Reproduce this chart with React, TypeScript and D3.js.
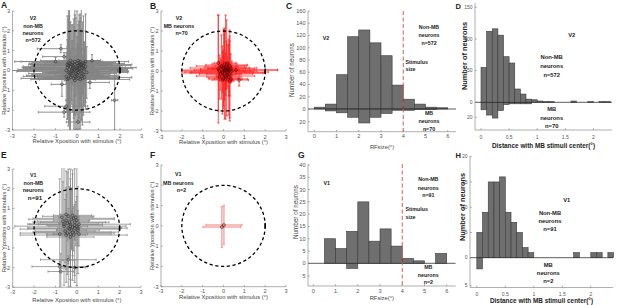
import React from "react";
import * as d3 from "d3";

const FONT = '"Liberation Sans", Arial, Helvetica, sans-serif';

// ---- Scatter data: [x centre, y centre, x error, y error] (deg) ----
type Neuron = [number, number, number, number];

const v2NonMB: Neuron[] = [
  [-0.12, 0.05, 1.8, 0.6], [0.05, -0.1, 0.6, 2.4], [-0.3, 0.2, 2.2, 0.5], [0.2, 0.3, 0.5, 2.8],
  [-0.05, -0.35, 1.5, 0.9], [0.1, 0.1, 2.5, 0.4], [-0.4, -0.1, 1.2, 1.9], [0.3, -0.2, 0.8, 1.6],
  [-0.2, 0.4, 1.9, 1.1], [0.0, 0.0, 0.9, 3.0], [-0.25, -0.25, 2.1, 0.7], [0.15, 0.45, 0.7, 2.2],
  [-0.45, 0.15, 1.6, 2.6], [0.35, 0.05, 2.0, 0.5], [-0.1, -0.5, 0.5, 2.5], [0.05, 0.25, 1.3, 1.4],
  [-0.35, 0.35, 0.6, 2.9], [0.25, -0.4, 1.7, 0.8], [-0.15, 0.15, 2.4, 0.3], [0.4, 0.2, 0.4, 1.8],
  [-0.5, -0.3, 2.0, 1.2], [0.1, -0.25, 1.1, 2.7], [-0.2, -0.05, 2.6, 0.6], [0.2, 0.0, 0.8, 2.1],
  [-0.3, 0.5, 1.4, 0.5], [0.0, 0.35, 2.2, 1.0], [-0.4, 0.25, 0.7, 2.3], [0.3, 0.4, 1.5, 0.7],
  [-0.05, -0.15, 1.0, 2.8], [0.15, -0.45, 2.3, 0.4], [-0.25, 0.0, 0.5, 1.5], [0.45, -0.1, 1.9, 1.3],
  [-0.1, 0.3, 1.7, 2.5], [0.05, 0.5, 0.9, 0.8], [-0.45, -0.45, 1.3, 2.0], [0.25, 0.15, 2.5, 0.6],
  [-0.15, -0.4, 0.6, 3.0], [0.35, 0.35, 1.2, 1.1], [-0.3, -0.2, 1.8, 0.4], [0.1, 0.2, 0.4, 2.6],
  [-0.05, 0.1, 2.1, 0.9], [0.2, -0.3, 1.0, 2.2], [-0.35, 0.05, 2.4, 1.6], [0.0, -0.2, 0.7, 1.9],
  [-0.2, 0.25, 1.5, 0.3], [0.4, 0.45, 0.8, 2.4], [-0.5, 0.0, 2.6, 0.7], [0.15, -0.05, 1.4, 2.9],
  [-0.1, -0.3, 2.0, 1.0], [0.3, 0.1, 0.5, 1.2], [-0.4, 0.4, 1.1, 2.7], [0.05, -0.4, 1.9, 0.5],
  [-0.25, 0.3, 0.9, 2.0], [0.2, 0.25, 2.3, 0.8], [-0.15, -0.1, 1.2, 2.3], [0.0, 0.15, 1.6, 0.6],
  [-0.3, -0.35, 0.4, 2.8], [0.35, -0.35, 2.2, 1.4], [-0.45, 0.3, 1.7, 0.9], [0.1, 0.4, 0.6, 2.1],
  [-0.2, 0.1, 2.3, 2.2], [0.25, -0.15, 1.6, 2.6], [-0.35, -0.15, 1.9, 2.9], [0.05, 0.05, 2.0, 2.0],
  [-0.1, 0.45, 2.5, 2.7], [0.3, 0.25, 1.8, 2.5], [-0.4, -0.4, 2.2, 2.4], [0.15, 0.3, 2.4, 1.7],
  [-0.75, 1.1, 1.1, 0.2], [-0.6, 0.7, 1.0, 0.2], [-0.5, -1.8, 1.0, 0.3], [-0.6, -2.1, 1.2, 0.25],
  [0.05, -2.6, 0.55, 0.4], [1.75, -1.5, 0.15, 1.5], [1.95, 0.0, 0.4, 0.3], [0.6, -0.6, 0.9, 0.3],
  [-0.7, -0.7, 0.5, 0.6], [-1.0, 0.45, 1.9, 0.2], [0.7, 0.5, 0.4, 0.3],
];

const v2MB: Neuron[] = [
  [0.1, 0.0, 1.2, 0.9], [0.0, 0.1, 0.5, 2.0], [0.2, -0.1, 1.8, 0.4], [-0.1, 0.2, 0.8, 1.6],
  [0.3, 0.05, 2.3, 0.3], [0.05, -0.2, 0.4, 2.2], [-0.2, 0.0, 1.8, 0.5], [0.15, 0.3, 1.0, 1.2],
  [0.25, -0.3, 0.6, 1.9], [-0.05, -0.05, 1.5, 1.0], [0.35, 0.15, 0.9, 0.7], [0.1, 0.2, 0.3, 2.6],
  [-0.25, 0.1, 0.5, 2.7], [0.2, 0.1, 1.3, 0.6], [0.0, -0.35, 0.7, 1.4], [0.3, -0.15, 1.1, 2.2],
  [-0.15, -0.15, 1.0, 0.8], [0.05, 0.35, 0.6, 1.8], [0.4, 0.0, 0.6, 0.5], [0.15, -0.05, 2.0, 0.5],
  [-0.1, 0.25, 1.2, 0.3], [0.2, 0.4, 0.4, 0.9], [0.1, -0.4, 0.8, 0.8], [0.3, 0.25, 0.7, 1.5],
  [-0.2, -0.3, 0.6, 1.1], [0.0, 0.15, 1.6, 0.6], [0.25, 0.05, 0.5, 1.3], [0.1, -0.25, 1.4, 0.4],
  [0.75, -0.45, 0.45, 0.3], [0.35, -0.4, 0.8, 0.2], [0.05, 0.05, 0.3, 0.4], [0.15, 0.15, 0.9, 2.4],
  [-0.05, -0.45, 0.5, 1.7], [0.2, -0.2, 0.4, 0.6], [-0.05, -0.1, 1.95, 0.3], [0.6, 0.05, 2.0, 0.2],
  [-0.25, 0.4, 0.2, 2.4], [0.3, -0.5, 0.2, 2.0],
];

const v1NonMB: Neuron[] = [
  [-0.3, 0.2, 1.5, 2.8], [-0.1, 0.0, 2.2, 0.6], [-0.5, 0.4, 0.6, 2.5], [-0.2, -0.2, 1.8, 1.2],
  [0.0, 0.1, 0.5, 3.0], [-0.4, 0.6, 1.2, 0.4], [-0.15, -0.35, 2.5, 0.8], [-0.6, 0.1, 0.7, 3.0],
  [-0.25, 0.45, 2.0, 1.5], [0.05, -0.1, 1.0, 2.2], [-0.35, -0.05, 2.3, 0.5], [-0.45, 0.25, 0.4, 2.6],
  [-0.1, 0.3, 1.6, 0.9], [-0.3, -0.3, 0.8, 2.8], [0.1, 0.2, 2.4, 0.4], [-0.55, -0.15, 1.4, 1.6],
  [-0.2, 0.65, 0.9, 2.3], [-0.05, -0.2, 2.0, 0.7], [-0.4, 0.0, 0.5, 3.0], [-0.15, 0.5, 1.9, 0.6],
  [-0.65, 0.35, 1.2, 2.0], [0.0, 0.4, 0.6, 1.2], [-0.3, 0.1, 2.6, 0.3], [-0.5, -0.35, 0.9, 2.4],
  [-0.1, 0.15, 1.3, 2.9], [-0.25, -0.1, 0.7, 1.0], [-0.7, 0.55, 0.4, 2.6], [0.1, -0.3, 1.5, 0.6],
  [-0.35, 0.3, 1.7, 1.8], [-0.2, 0.05, 0.4, 2.7], [-0.45, -0.25, 2.2, 0.4], [-0.05, 0.55, 0.8, 0.8],
  [-0.3, -0.45, 1.1, 2.5], [0.05, 0.0, 2.3, 0.9], [-0.6, 0.2, 1.6, 0.5], [-0.4, -1.6, 1.3, 0.2],
  [-0.8, -1.95, 1.3, 0.25], [-0.75, -2.2, 0.6, 0.9], [-0.1, -2.0, 0.5, 0.4], [-0.5, 0.7, 0.3, 1.0],
  [-0.8, -0.3, 0.3, 2.8],
];

const v1MB: Neuron[] = [
  [0.02, 0.04, 0.86, 0.96],
  [-0.08, -0.06, 0.9, 1.0],
];

// ---- Histogram data ----
const rfBinEdges = [0, 0.5, 1, 1.5, 2, 2.5, 3, 3.5, 4, 4.5, 5, 5.5, 6];
const v2RfNonMB = [3, 8, 56, 118, 129, 108, 87, 39, 16, 8, 3, 2];
const v2RfMB = [0, 3, 6, 13, 22, 13, 7, 2, 2, 1, 1, 0];
const v1RfNonMB = [0, 10, 6, 13, 25, 9, 14, 7, 2, 1, 0, 4];
const v1RfMB = [0, 0, 0, 2, 0, 0, 0, 0, 0, 0, 0, 0];

const distBinEdges = [0, 0.1, 0.2, 0.3, 0.4, 0.5, 0.6, 0.7, 0.8, 0.9, 1, 1.1, 1.2, 1.3, 1.4, 1.5, 1.6, 1.7, 1.8, 1.9, 2, 2.1, 2.2, 2.3, 2.4];
const v2DistNonMB = [55, 112, 116, 106, 72, 62, 21, 13, 5, 4, 2, 1, 1, 0, 0, 0, 2, 0, 0, 1, 0, 1, 1, 0];
const v2DistMB = [10, 17, 21, 11, 3, 2, 2, 2, 2, 0, 0, 0, 0, 0, 0, 0, 0, 0, 0, 0, 0, 0, 0, 0];
const v1DistNonMB = [5, 9, 15, 15, 16, 9, 7, 5, 2, 1, 0, 0, 0, 0, 0, 0, 0, 1, 0, 0, 1, 1, 0, 1];
const v1DistMB = [2, 0, 0, 0, 0, 0, 0, 0, 0, 0, 0, 0, 0, 0, 0, 0, 0, 0, 0, 0, 0, 0, 0, 0];

// ---- Ticks ----
const posTicks = [-3, -2, -1, 0, 1, 2, 3];
const rfTicks = [0, 1, 2, 3, 4, 5, 6];
const distTicks = [0, 0.5, 1, 1.5, 2];
const v2RfUpTicks = [0, 20, 40, 60, 80, 100, 120, 140, 160];
const v2RfDownTicks = [20];
const v1RfUpTicks = [0, 5, 10, 15, 20, 25, 30, 35, 40];
const v1RfDownTicks = [5];
const v2DistUpTicks = [0, 50, 100, 150];
const v2DistDownTicks = [20];
const v1DistUpTicks = [0, 5, 10, 15, 20];
const v1DistDownTicks = [5];

const AXIS = "#7a7a7a";
const TICKTXT = "#555";
const LABTXT = "#444";

type Note = { t: string; x: number; y: number; anchor?: string; size?: number };

function Notes({ notes, size = 5.3 }: { notes: Note[]; size?: number }) {
  return (
    <g fontFamily={FONT} fontWeight="bold" fill="#222">
      {notes.map((n, i) => (
        <text key={i} x={n.x} y={n.y} fontSize={n.size ?? size} textAnchor={n.anchor ?? "middle"}>
          {n.t}
        </text>
      ))}
    </g>
  );
}

function Scatter(p: {
  id: string; data: Neuron[]; left: number; right: number; top: number; bottom: number;
  stroke: string; sw: number; so: number; marker: string; notes: Note[];
  ylabX: number; xtickY: number; xlabY: number; noteSize?: number;
}) {
  const x = d3.scaleLinear().domain([-3, 3]).range([p.left, p.right]);
  const y = d3.scaleLinear().domain([-3, 3]).range([p.bottom, p.top]);
  const cap = 1.2;
  const cy0 = (p.top + p.bottom) / 2;
  return (
    <g>
      <defs>
        <clipPath id={p.id}>
          <rect x={p.left} y={p.top - 1} width={p.right - p.left} height={p.bottom - p.top + 1} />
        </clipPath>
      </defs>
      <g clipPath={`url(#${p.id})`}>
        <g stroke={p.stroke} strokeWidth={p.sw} strokeOpacity={p.so} fill="none">
          {p.data.map((d, i) => {
            const [cx, cy, xe, ye] = d;
            const xl = x(cx - xe), xr = x(cx + xe), yy = y(cy);
            const yt = y(cy + ye), yb = y(cy - ye), xx = x(cx);
            return (
              <path
                key={i}
                d={`M${xl},${yy}H${xr}M${xl},${yy - cap}V${yy + cap}M${xr},${yy - cap}V${yy + cap}M${xx},${yt}V${yb}M${xx - cap},${yt}H${xx + cap}M${xx - cap},${yb}H${xx + cap}`}
              />
            );
          })}
        </g>
        {p.data.map((d, i) => (
          <circle key={i} cx={x(d[0])} cy={y(d[1])} r={1.4} fill="none" stroke={p.marker} strokeWidth={0.6} />
        ))}
      </g>
      <ellipse cx={x(0)} cy={y(0)} rx={x(2) - x(0)} ry={y(0) - y(2)} fill="none" stroke="#000" strokeWidth={1.3} strokeDasharray="3.2,2.6" />
      <line x1={x(2)} x2={x(2)} y1={y(0) - 2.5} y2={y(0) + 2.5} stroke="#000" strokeWidth={1.4} />
      {/* axes */}
      <line x1={p.left} x2={p.left} y1={p.top} y2={p.bottom} stroke={AXIS} strokeWidth={0.6} />
      <line x1={p.left} x2={p.right} y1={p.bottom} y2={p.bottom} stroke={AXIS} strokeWidth={0.6} />
      {posTicks.map((t) => (
        <g key={"y" + t}>
          <line x1={p.left} x2={p.left + 1.8} y1={y(t)} y2={y(t)} stroke={AXIS} strokeWidth={0.6} />
          <text x={p.left - 2.5} y={y(t)} dy="0.35em" fontSize={5.6} textAnchor="end" fontFamily={FONT} fill={TICKTXT}>{t}</text>
        </g>
      ))}
      {posTicks.map((t) => (
        <g key={"x" + t}>
          <line x1={x(t)} x2={x(t)} y1={p.bottom} y2={p.bottom - 1.8} stroke={AXIS} strokeWidth={0.6} />
          <text x={x(t)} y={p.xtickY} fontSize={5.6} textAnchor="middle" fontFamily={FONT} fill={TICKTXT}>{t}</text>
        </g>
      ))}
      <text x={(p.left + p.right) / 2} y={p.xlabY} fontSize={5.8} textAnchor="middle" fontFamily={FONT} fill={LABTXT}>
        Relative Xposition with stimulus (°)
      </text>
      <text transform={`translate(${p.ylabX},${cy0}) rotate(-90)`} fontSize={5.8} textAnchor="middle" fontFamily={FONT} fill={LABTXT}>
        Relative Yposition with stimulus (°)
      </text>
      <Notes notes={p.notes} size={p.noteSize} />
    </g>
  );
}

function Hist(p: {
  left: number; right: number; xDomain: [number, number]; zeroY: number;
  upMax: number; upMaxPx: number; downRef: number; downRefPx: number;
  axisTop: number; axisBottom: number; edges: number[]; up: number[]; down: number[];
  xTicks: number[]; upTicks: number[]; downTicks: number[]; stim?: number;
  xtickY: number; xlabel: string; xlabY: number; xlabSize: number; xlabBold?: boolean;
  ylabX: number; ylabY: number; ylabSize: number; ylabBold?: boolean; notes: Note[]; noteSize?: number;
  tickSize: number;
}) {
  const x = d3.scaleLinear().domain(p.xDomain).range([p.left, p.right]);
  const yUp = d3.scaleLinear().domain([0, p.upMax]).range([p.zeroY, p.upMaxPx]);
  const yDown = d3.scaleLinear().domain([0, p.downRef]).range([p.zeroY, p.downRefPx]);
  const fill = "#6f6f6f";
  const edge = "#3a3a3a";
  return (
    <g>
      {p.up.map((v, i) =>
        v > 0 ? (
          <rect key={"u" + i} x={x(p.edges[i])} width={x(p.edges[i + 1]) - x(p.edges[i])} y={yUp(v)} height={p.zeroY - yUp(v)} fill={fill} stroke={edge} strokeWidth={0.6} />
        ) : null
      )}
      {p.down.map((v, i) =>
        v > 0 ? (
          <rect key={"d" + i} x={x(p.edges[i])} width={x(p.edges[i + 1]) - x(p.edges[i])} y={p.zeroY} height={yDown(v) - p.zeroY} fill={fill} stroke={edge} strokeWidth={0.6} />
        ) : null
      )}
      <line x1={p.left} x2={p.right} y1={p.zeroY} y2={p.zeroY} stroke="#333" strokeWidth={0.8} />
      {p.stim !== undefined && (
        <line x1={x(p.stim)} x2={x(p.stim)} y1={p.axisTop} y2={p.axisBottom} stroke="#e0585c" strokeWidth={1} strokeDasharray="4,2.5" />
      )}
      <line x1={p.left} x2={p.left} y1={p.axisTop} y2={p.axisBottom} stroke={AXIS} strokeWidth={0.6} />
      <line x1={p.left} x2={p.right} y1={p.axisBottom} y2={p.axisBottom} stroke={AXIS} strokeWidth={0.6} />
      {p.upTicks.map((t) => (
        <g key={"yu" + t}>
          <line x1={p.left} x2={p.left + 1.8} y1={yUp(t)} y2={yUp(t)} stroke={AXIS} strokeWidth={0.6} />
          <text x={p.left - 2.5} y={yUp(t)} dy="0.35em" fontSize={p.tickSize} textAnchor="end" fontFamily={FONT} fill={TICKTXT}>{t}</text>
        </g>
      ))}
      {p.downTicks.map((t) => (
        <g key={"yd" + t}>
          <line x1={p.left} x2={p.left + 1.8} y1={yDown(t)} y2={yDown(t)} stroke={AXIS} strokeWidth={0.6} />
          <text x={p.left - 2.5} y={yDown(t)} dy="0.35em" fontSize={p.tickSize} textAnchor="end" fontFamily={FONT} fill={TICKTXT}>{t}</text>
        </g>
      ))}
      {p.xTicks.map((t) => (
        <g key={"x" + t}>
          <line x1={x(t)} x2={x(t)} y1={p.axisBottom} y2={p.axisBottom - 1.8} stroke={AXIS} strokeWidth={0.6} />
          <text x={x(t)} y={p.xtickY} fontSize={p.tickSize} textAnchor="middle" fontFamily={FONT} fill={TICKTXT}>{t}</text>
        </g>
      ))}
      <text x={(p.left + p.right) / 2} y={p.xlabY} fontSize={p.xlabSize} fontWeight={p.xlabBold ? "bold" : "normal"} textAnchor="middle" fontFamily={FONT} fill={p.xlabBold ? "#222" : LABTXT}>
        {p.xlabel}
      </text>
      <text transform={`translate(${p.ylabX},${p.ylabY}) rotate(-90)`} fontSize={p.ylabSize} fontWeight={p.ylabBold ? "bold" : "normal"} textAnchor="middle" fontFamily={FONT} fill={p.ylabBold ? "#222" : LABTXT}>
        Number of neurons
      </text>
      <Notes notes={p.notes} size={p.noteSize} />
    </g>
  );
}

function Letter({ t, x, y, size = 8.5 }: { t: string; x: number; y: number; size?: number }) {
  return (
    <text x={x} y={y} fontSize={size} fontWeight="bold" fontFamily={FONT} fill="#222">{t}</text>
  );
}

export default function App() {
  return (
    <svg width={617} height={305} style={{ position: "absolute", left: 0, top: 0, background: "#fff" }}>
      <rect width={617} height={305} fill="#fff" />
      {/* A */}
      <Scatter id="clipA" data={v2NonMB} left={12.5} right={141.5} top={11} bottom={130}
        stroke="#858585" sw={0.9} so={1} marker="#333"
        ylabX={5.5} xtickY={138} xlabY={143}
        notes={[{ t: "V2", x: 33, y: 20 }, { t: "non-MB", x: 33, y: 27.5 }, { t: "neurons", x: 33, y: 34.5 }, { t: "n=572", x: 33, y: 42 }]} />
      {/* B */}
      <Scatter id="clipB" data={v2MB} left={161} right={286} top={11} bottom={131}
        stroke="#ff1a1a" sw={0.8} so={0.9} marker="#400"
        ylabX={154} xtickY={139} xlabY={143.5}
        notes={[{ t: "V2", x: 179, y: 20 }, { t: "MB neurons", x: 179, y: 27.8 }, { t: "n=70", x: 181.5, y: 35.2 }]} />
      {/* E */}
      <Scatter id="clipE" data={v1NonMB} left={12.7} right={141} top={169} bottom={287.3}
        stroke="#8a8a8a" sw={0.8} so={1} marker="#333"
        ylabX={5.5} xtickY={293.6} xlabY={302}
        notes={[{ t: "V1", x: 33.3, y: 177 }, { t: "non-MB", x: 33.3, y: 184.5 }, { t: "neurons", x: 33.3, y: 191.8 }, { t: "n=91", x: 35, y: 200, size: 6.2 }]} />
      {/* F */}
      <Scatter id="clipF" data={v1MB} left={161} right={286} top={165} bottom={286.7}
        stroke="#ec6f6f" sw={1.5} so={0.6} marker="#300"
        ylabX={154} xtickY={292.8} xlabY={298.5}
        notes={[{ t: "V1", x: 178.3, y: 176 }, { t: "MB neurons", x: 178.3, y: 184.5 }, { t: "n=2", x: 181.5, y: 192 }]} />
      {/* C */}
      <Hist left={308} right={456} xDomain={[-0.28, 6.37]} zeroY={109} upMax={160} upMaxPx={11}
        downRef={20} downRefPx={121.7} axisTop={11} axisBottom={131.7}
        edges={rfBinEdges} up={v2RfNonMB} down={v2RfMB} xTicks={rfTicks} upTicks={v2RfUpTicks} downTicks={v2RfDownTicks}
        stim={4} xtickY={138.3} xlabel="RFsize(°)" xlabY={148.6} xlabSize={5.8}
        ylabX={294} ylabY={70} ylabSize={6.3} tickSize={5.6}
        notes={[{ t: "V2", x: 326, y: 40 }, { t: "Non-MB", x: 429, y: 28.5 }, { t: "neurons", x: 429, y: 36.8 }, { t: "n=572", x: 429, y: 45 },
          { t: "Stimulus", x: 405.5, y: 63.5, anchor: "start" }, { t: "size", x: 405.5, y: 71, anchor: "start" },
          { t: "MB", x: 429, y: 115 }, { t: "neurons", x: 429, y: 123.4 }, { t: "n=70", x: 429, y: 131 }]} />
      {/* G */}
      <Hist left={308} right={455.6} xDomain={[-0.24, 6.4]} zeroY={263.3} upMax={40} upMaxPx={165}
        downRef={5} downRefPx={276} axisTop={164} axisBottom={286}
        edges={rfBinEdges} up={v1RfNonMB} down={v1RfMB} xTicks={rfTicks} upTicks={v1RfUpTicks} downTicks={v1RfDownTicks}
        stim={4} xtickY={292.6} xlabel="RFsize(°)" xlabY={300} xlabSize={5.8}
        ylabX={298} ylabY={212} ylabSize={6.3} tickSize={5.6}
        notes={[{ t: "V1", x: 326.7, y: 184.5 }, { t: "Non-MB", x: 428.3, y: 181 }, { t: "neurons", x: 428.3, y: 190 }, { t: "n=91", x: 428.3, y: 197 },
          { t: "Stimulus", x: 405.5, y: 211, anchor: "start" }, { t: "size", x: 405.5, y: 218.5, anchor: "start" },
          { t: "MB", x: 428.3, y: 268.5 }, { t: "neurons", x: 428.3, y: 276.8 }, { t: "n=2", x: 428.3, y: 283.5 }]} />
      {/* D */}
      <Hist left={475} right={612} xDomain={[-0.107, 2.33]} zeroY={102.3} upMax={150} upMaxPx={7.3}
        downRef={20} downRefPx={117.3} axisTop={3} axisBottom={130}
        edges={distBinEdges} up={v2DistNonMB} down={v2DistMB} xTicks={distTicks} upTicks={v2DistUpTicks} downTicks={v2DistDownTicks}
        xtickY={139} xlabel="Distance with MB stimuli center(°)" xlabY={148} xlabSize={6.4} xlabBold
        ylabX={466.5} ylabY={56} ylabSize={7.4} ylabBold tickSize={5}
        notes={[{ t: "V2", x: 571.7, y: 37 }, { t: "Non-MB", x: 551.7, y: 59.3 }, { t: "neurons", x: 551.7, y: 68 }, { t: "n=572", x: 551.7, y: 77 },
          { t: "MB", x: 551.7, y: 111.3 }, { t: "neurons", x: 551.7, y: 119.7 }, { t: "n=70", x: 551.7, y: 128 }]} noteSize={5.8} />
      {/* H */}
      <Hist left={470} right={613} xDomain={[-0.12, 2.39]} zeroY={257.7} upMax={20} upMaxPx={156.7}
        downRef={5} downRefPx={285.7} axisTop={156} axisBottom={287.5}
        edges={distBinEdges} up={v1DistNonMB} down={v1DistMB} xTicks={distTicks} upTicks={v1DistUpTicks} downTicks={v1DistDownTicks}
        xtickY={296} xlabel="Distance with MB stimuli center(°)" xlabY={303} xlabSize={6.4} xlabBold
        ylabX={464.5} ylabY={207} ylabSize={7.4} ylabBold tickSize={5}
        notes={[{ t: "V1", x: 566.7, y: 202 }, { t: "Non-MB", x: 550, y: 214.7 }, { t: "neurons", x: 550, y: 223 }, { t: "n=91", x: 550, y: 231.3 },
          { t: "MB", x: 548.3, y: 267 }, { t: "neurons", x: 548.3, y: 274.7 }, { t: "n=2", x: 548.3, y: 282.7 }]} noteSize={5.8} />
      <Letter t="A" x={1} y={8} />
      <Letter t="B" x={150} y={8.5} />
      <Letter t="C" x={286} y={9} />
      <Letter t="D" x={455.5} y={8.5} size={7.5} />
      <Letter t="E" x={1} y={158} />
      <Letter t="F" x={150} y={158} />
      <Letter t="G" x={298} y={158} />
      <Letter t="H" x={455.5} y={158.3} size={7.5} />
    </svg>
  );
}
